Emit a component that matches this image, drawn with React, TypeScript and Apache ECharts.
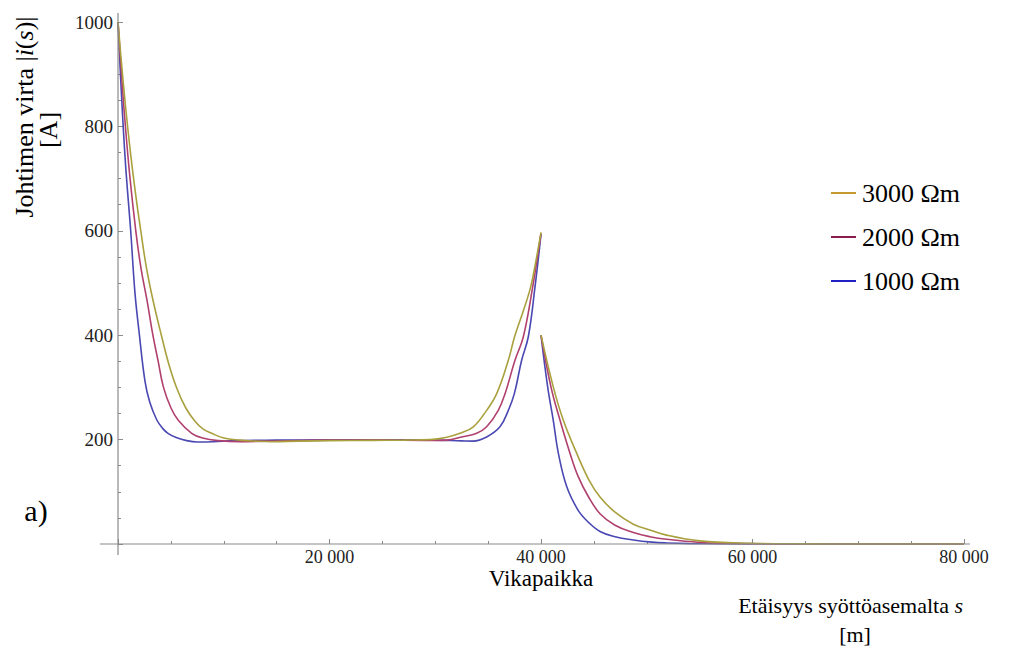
import React, { useEffect, useRef } from "react";
import * as echarts from "echarts";

const FONT = '"Liberation Serif", "Times New Roman", serif';

// x tick labels (m) and y tick labels (A)
const xTicks = [20000, 40000, 60000, 80000];
const yTicks = [200, 400, 600, 800, 1000];

const seriesNames = ["3000 Ωm", "2000 Ωm", "1000 Ωm"];

// 1000 Ωm — before the fault (0 … 40 000 m)
const s1000a = [0, 300, 700, 1200, 1600, 2000, 2550, 3000, 3660, 4200, 4730, 5500, 6500, 7500, 9000, 11000, 15000, 20000, 25000, 30000, 32500, 33570, 34860, 36120, 36910, 37480, 38170, 38800, 39430, 40000];
const i1000a = [1000, 872, 731, 600, 482, 405, 312, 272, 238, 222, 212, 204, 198, 195.5, 196, 198, 199, 199.5, 199.5, 199, 197.5, 197, 205, 224.5, 256, 288, 352, 397, 492, 593];
// 1000 Ωm — after the fault
const s1000b = [40000, 40630, 41160, 41640, 42430, 43500, 44470, 45580, 47000, 48730, 50500, 51880, 54000, 57000, 62000, 70000, 80000];
const i1000b = [400, 301, 237, 174, 110, 65, 42, 24, 14, 7.7, 3.6, 2, 0.8, 0.2, 0, 0, 0];

// 2000 Ωm
const s2000a = [0, 250, 600, 1100, 1700, 2200, 2740, 3300, 3800, 4290, 5000, 5700, 6970, 8000, 9500, 11500, 14000, 20000, 25000, 29000, 31080, 32500, 33920, 34860, 35960, 36600, 37540, 38330, 39210, 40000];
const i2000a = [1000, 924, 825, 708, 597, 525, 467, 400, 350, 301, 261, 237, 212, 203, 198, 196, 197, 199, 199, 198.5, 199, 205, 212, 224.5, 256, 288, 352, 397, 492, 595];
const s2000b = [40000, 40940, 41800, 42740, 43500, 44500, 45580, 47000, 48730, 50300, 51880, 55030, 58000, 62000, 70000, 80000];
const i2000b = [400, 301, 237, 174, 130, 90, 58, 36, 22, 14, 9, 3, 1.2, 0.3, 0, 0];

// 3000 Ωm
const s3000a = [0, 300, 700, 1200, 1700, 2175, 2700, 3310, 4100, 4800, 5550, 6400, 7280, 8000, 8860, 10000, 11500, 13000, 14500, 17000, 20000, 24000, 27000, 29500, 31000, 32340, 33600, 34860, 35810, 36910, 37500, 38300, 39020, 39500, 40000];
const i3000a = [1000, 928, 841, 746, 665, 597, 528, 467, 400, 345, 299, 261, 235, 221, 212, 203, 199, 197, 196, 197, 198, 198.5, 199, 200, 204, 212, 224.5, 256, 288, 352, 397, 445, 492, 540, 597];
const s3000b = [40000, 41160, 42110, 43370, 44500, 45580, 47000, 48730, 50300, 51880, 55030, 59760, 65000, 70000, 80000];
const i3000b = [400, 301, 237, 174, 124, 90, 61, 38, 27, 17, 6, 1.5, 0.3, 0, 0];

const lineColors = ["#a9a03e", "#b0406e", "#4a48b2"];
const legendColors = ["#c49a2c", "#8c1c4c", "#2020c4"];

function build(sa: number[], ia: number[], sb: number[], ib: number[]) {
  const out: any[] = sa.map((s, k) => [s, ia[k]]);
  out.push([40000, "-"]);
  sb.forEach((s, k) => out.push([s, ib[k]]));
  return out;
}

const fmt = (v: number) => {
  if (v === 0) return "";
  const t = String(v);
  return t.length > 3 ? t.slice(0, t.length - 3) + " " + t.slice(-3) : t;
};

export default function App() {
  const ref = useRef<HTMLDivElement>(null);
  useEffect(() => {
    if (!ref.current) return;
    const chart = echarts.init(ref.current, undefined, { renderer: "svg" });
    const data = [
      build(s3000a, i3000a, s3000b, i3000b),
      build(s2000a, i2000a, s2000b, i2000b),
      build(s1000a, i1000a, s1000b, i1000b),
    ];
    const axisGray = "#8a8a8a";
    chart.setOption({
      animation: false,
      backgroundColor: "#ffffff",
      grid: { left: 118, right: 50, top: 22, bottom: 104 },
      xAxis: {
        type: "value",
        min: 0,
        max: 80000,
        interval: 20000,
        axisLine: { show: false },
        axisTick: { show: true, inside: true, length: 5, lineStyle: { color: axisGray } },
        minorTick: { show: true, splitNumber: 4, length: 3, lineStyle: { color: axisGray } },
        splitLine: { show: false },
        minorSplitLine: { show: false },
        axisLabel: {
          formatter: (v: number) => (xTicks.includes(v) ? fmt(v) : ""),
          color: "#222",
          fontFamily: FONT,
          fontSize: 18,
          margin: 4,
        },
      },
      yAxis: {
        type: "value",
        min: 0,
        max: 1000,
        interval: 200,
        axisLine: { show: false },
        axisTick: { show: true, inside: true, length: 5, lineStyle: { color: axisGray } },
        minorTick: { show: true, splitNumber: 4, length: 3, lineStyle: { color: axisGray } },
        splitLine: { show: false },
        minorSplitLine: { show: false },
        axisLabel: {
          formatter: (v: number) => (yTicks.includes(v) ? String(v) : ""),
          color: "#222",
          fontFamily: FONT,
          fontSize: 19,
          margin: 5,
        },
      },
      legend: {
        orient: "vertical",
        left: 826,
        top: 175,
        itemWidth: 25,
        itemHeight: 2,
        itemGap: 18,
        icon: "rect",
        data: seriesNames.map((n, k) => ({ name: n, itemStyle: { color: legendColors[k] } })),
        textStyle: { fontFamily: FONT, fontSize: 26, color: "#000", padding: [0, 0, 0, 1] },
      },
      series: seriesNames.map((n, k) => ({
        name: n,
        type: "line",
        data: data[k],
        showSymbol: false,
        smooth: 0.4,
        connectNulls: false,
        lineStyle: { width: 1.6, color: lineColors[k] },
        itemStyle: { color: lineColors[k] },
        z: 3 - k + 2,
      })),
      graphic: [
        { type: "line", z: 100, shape: { x1: 100, y1: 544, x2: 970, y2: 544 }, style: { stroke: axisGray, lineWidth: 1.2 } },
        { type: "line", z: 100, shape: { x1: 118, y1: 13, x2: 118, y2: 555 }, style: { stroke: axisGray, lineWidth: 1.2 } },
        {
          type: "text",
          x: 24,
          y: 117,
          rotation: Math.PI / 2,
          style: {
            text: "{n|Johtimen virta |}{i|i}{n|(}{i|s}{n|)|}",
            align: "center",
            verticalAlign: "middle",
            fill: "#000",
            fontFamily: FONT,
            fontSize: 26,
            rich: {
              n: { fontFamily: FONT, fontSize: 26, fill: "#000" },
              i: { fontFamily: FONT, fontSize: 26, fontStyle: "italic", fill: "#000" },
            },
          },
        },
        {
          type: "text",
          x: 48,
          y: 130,
          rotation: Math.PI / 2,
          style: { text: "[A]", align: "center", verticalAlign: "middle", fill: "#000", fontFamily: FONT, fontSize: 26 },
        },
        {
          type: "text",
          x: 541,
          y: 578,
          style: { text: "Vikapaikka", align: "center", verticalAlign: "middle", fill: "#000", fontFamily: FONT, fontSize: 23 },
        },
        {
          type: "text",
          x: 963,
          y: 605,
          style: {
            text: "{n|Etäisyys syöttöasemalta }{i|s}",
            align: "right",
            verticalAlign: "middle",
            fill: "#000",
            fontFamily: FONT,
            fontSize: 22,
            rich: {
              n: { fontFamily: FONT, fontSize: 22, fill: "#000" },
              i: { fontFamily: FONT, fontSize: 22, fontStyle: "italic", fill: "#000" },
            },
          },
        },
        {
          type: "text",
          x: 855,
          y: 634,
          style: { text: "[m]", align: "center", verticalAlign: "middle", fill: "#000", fontFamily: FONT, fontSize: 22 },
        },
        {
          type: "text",
          x: 36,
          y: 510,
          style: { text: "a)", align: "center", verticalAlign: "middle", fill: "#000", fontFamily: FONT, fontSize: 30 },
        },
      ],
    });
    return () => chart.dispose();
  }, []);
  return <div ref={ref} style={{ width: 1014, height: 648, position: "absolute", left: 0, top: 0 }} />;
}
